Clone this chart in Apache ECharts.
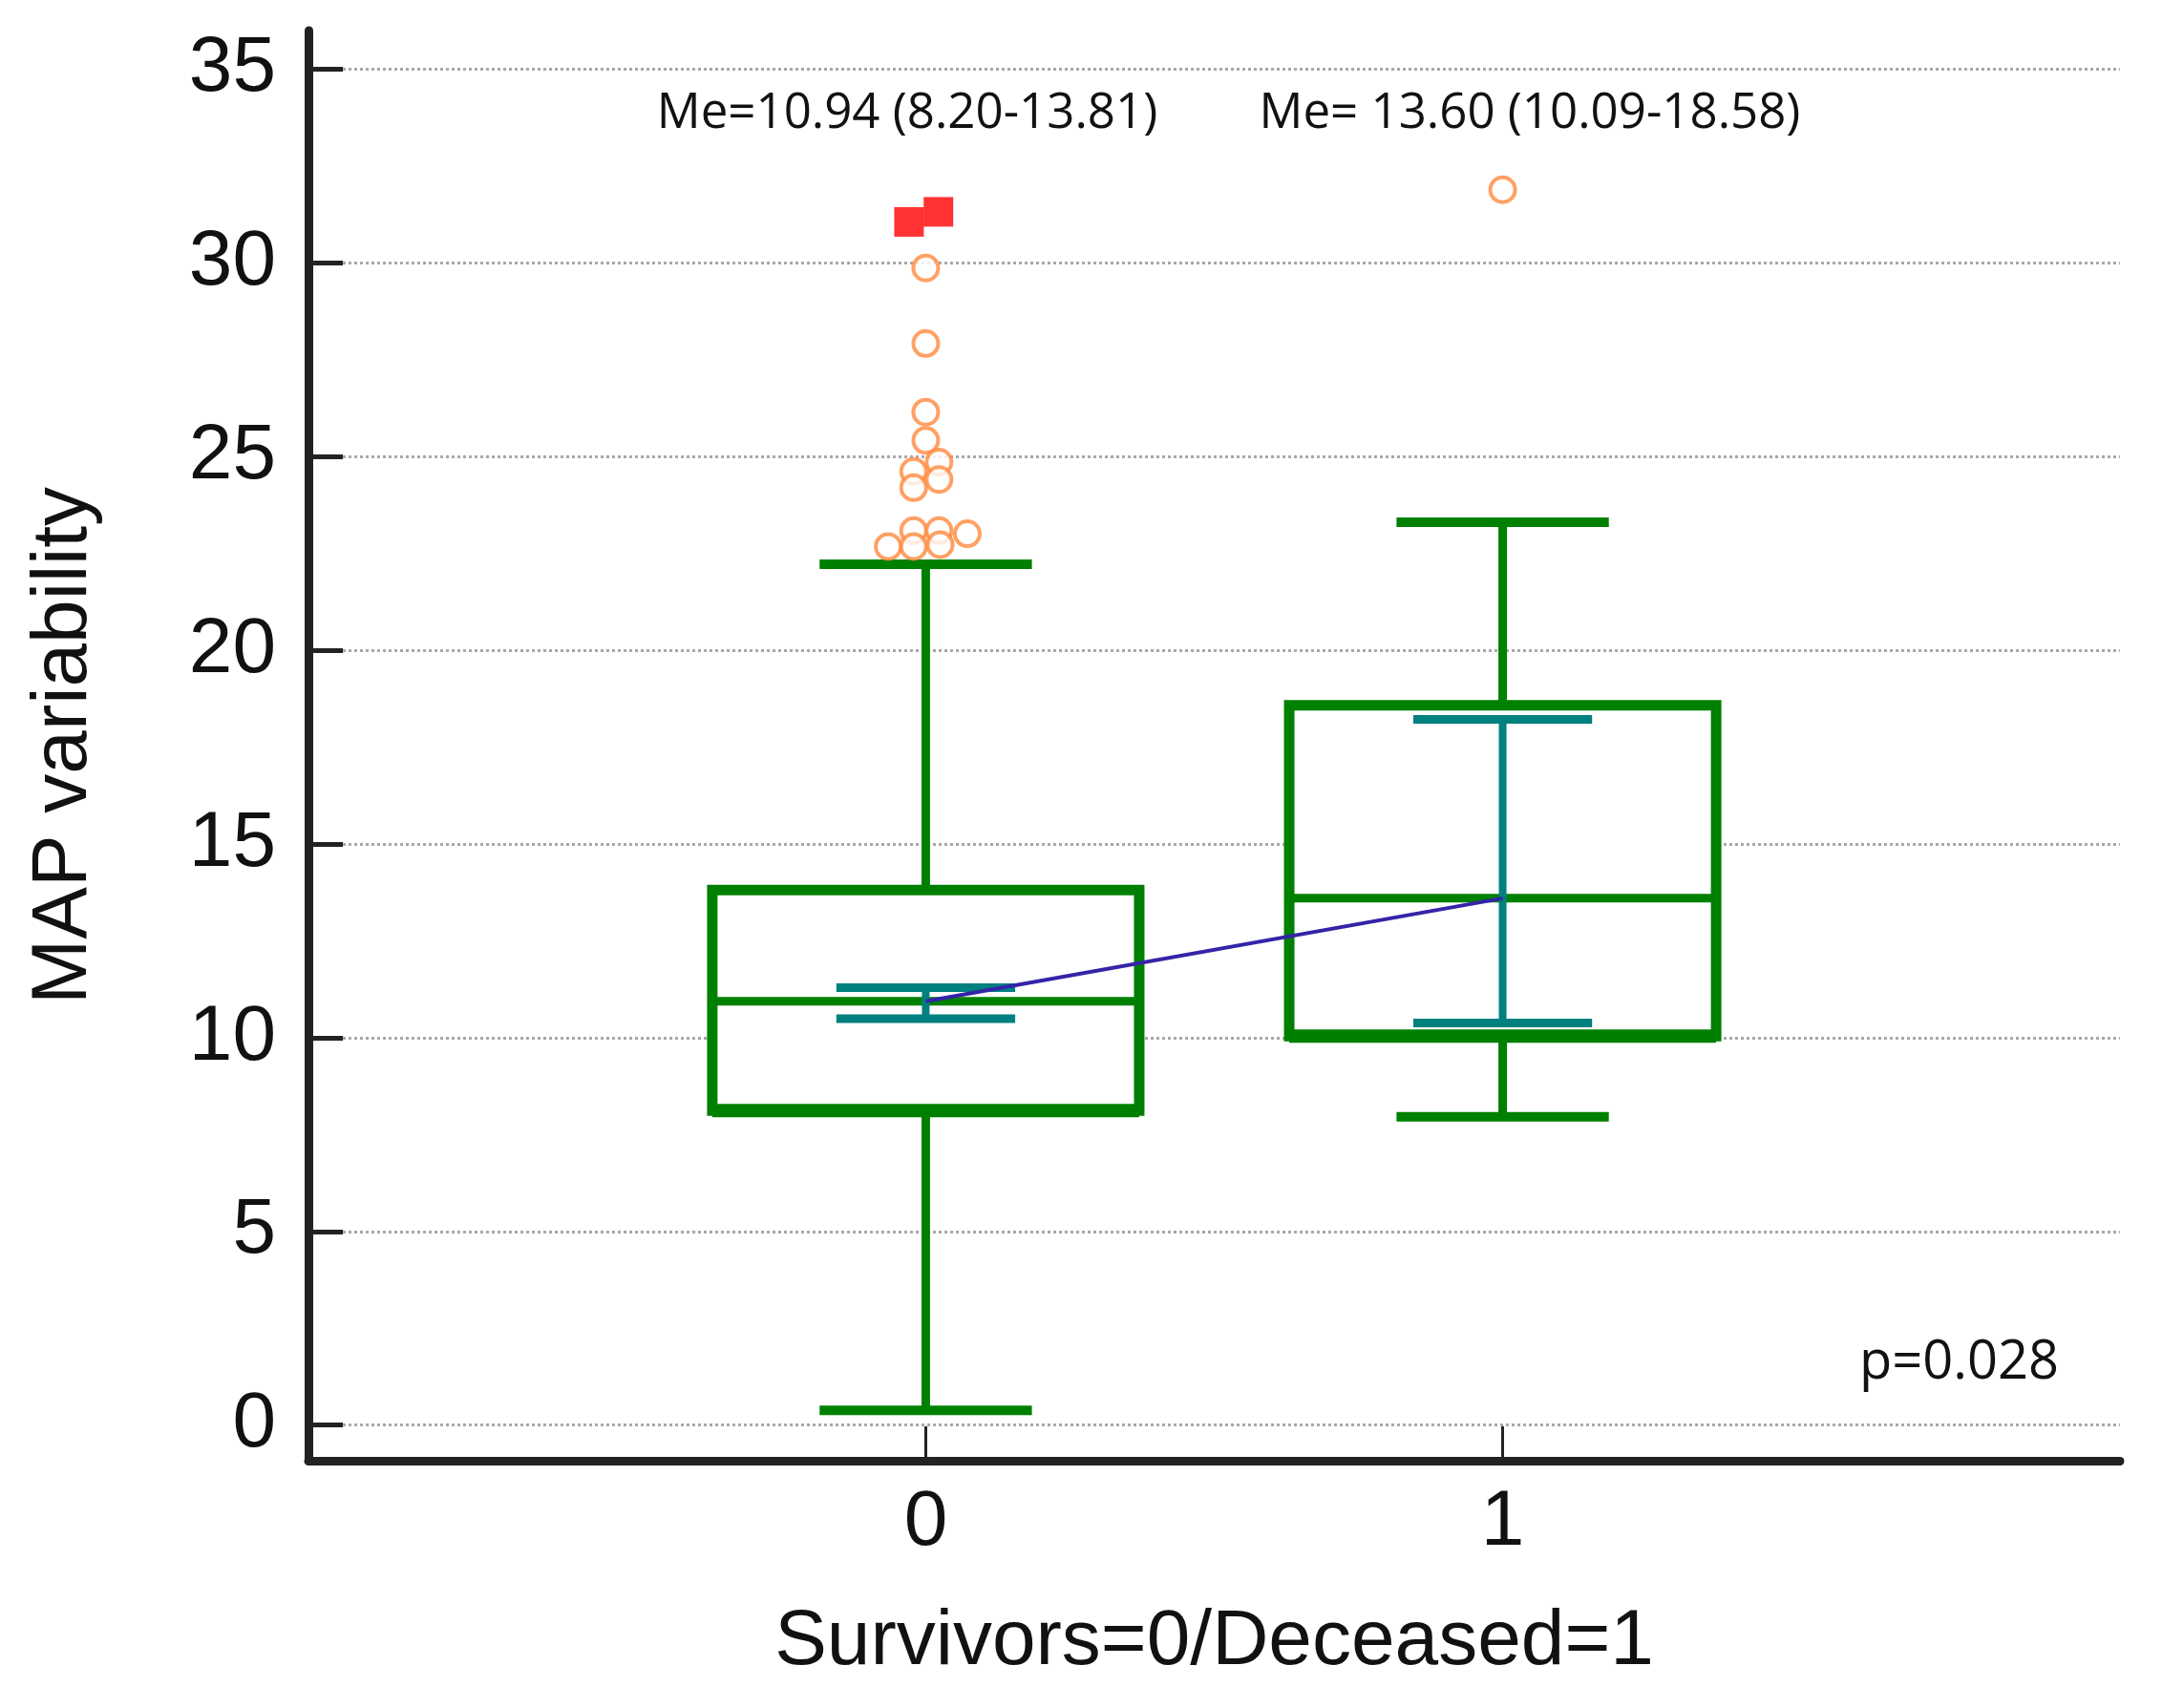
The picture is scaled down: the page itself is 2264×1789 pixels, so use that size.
<!DOCTYPE html>
<html>
<head>
<meta charset="utf-8">
<title>MAP variability</title>
<script src="https://cdn.jsdelivr.net/npm/echarts@6/dist/echarts.min.js"></script>
<style>
  html, body { margin: 0; padding: 0; background: #fff; }
  #chart { width: 2264px; height: 1789px; }
</style>
</head>
<body>
<div id="chart"></div>
<script>
// groups: survivors = 0, deceased = 1
var groups = [0, 1];
var whiskerLow = [0.38, 7.96];
var q1 = [8.12, 10.04];
var median = [10.94, 13.60];
var q3 = [13.81, 18.58];
var whiskerHigh = [22.22, 23.31];
var ciLow = [10.49, 10.38];
var ciHigh = [11.29, 18.22];

// outside values, [x jitter, value]
var outliers = [
  [0.000, 29.87], [0.000, 27.92], [0.000, 26.15], [0.000, 25.42],
  [0.023, 24.86], [-0.021, 24.62], [0.023, 24.41], [-0.021, 24.20],
  [-0.021, 23.09], [0.023, 23.09], [0.072, 23.01],
  [-0.065, 22.68], [-0.021, 22.68], [0.025, 22.73],
  [1.000, 31.89]
];
// far out values
var farOutliers = [[-0.029, 31.06], [0.022, 31.32]];

var medianLabels = ['Me=10.94 (8.20-13.81)', 'Me= 13.60 (10.09-18.58)'];
var pLabel = 'p=0.028';
var yTicks = [0, 5, 10, 15, 20, 25, 30, 35];
var xTicks = [0, 1];

var boxData = groups.map(function (g, i) {
  return [g, whiskerLow[i], q1[i], median[i], q3[i], whiskerHigh[i], ciLow[i], ciHigh[i]];
});

var green = '#008000';
var teal = '#00807f';

function renderBox(params, api) {
  var x = api.value(0);
  var lo = api.value(1), b1 = api.value(2), med = api.value(3), b3 = api.value(4);
  var hi = api.value(5), cl = api.value(6), ch = api.value(7);
  function seg(x1, y1, x2, y2, color, w) {
    var a = api.coord([x1, y1]);
    var b = api.coord([x2, y2]);
    return {
      type: 'line',
      shape: { x1: a[0], y1: a[1], x2: b[0], y2: b[1] },
      style: { stroke: color, lineWidth: w, lineCap: 'butt' }
    };
  }
  var tl = api.coord([x - 0.37, b3]);
  var br = api.coord([x + 0.37, b1]);
  return {
    type: 'group',
    children: [
      seg(x, lo, x, b1, green, 9),
      seg(x, b3, x, hi, green, 9),
      seg(x - 0.184, lo, x + 0.184, lo, green, 10),
      seg(x - 0.184, hi, x + 0.184, hi, green, 10),
      {
        type: 'rect',
        shape: { x: tl[0], y: tl[1], width: br[0] - tl[0], height: br[1] - tl[1] },
        style: { fill: '#fff', stroke: green, lineWidth: 11 }
      },
      seg(x - 0.37, b1, x + 0.37, b1, green, 14),
      seg(x - 0.37, med, x + 0.37, med, green, 9),
      seg(x, cl, x, ch, teal, 8),
      seg(x - 0.155, cl, x + 0.155, cl, teal, 9),
      seg(x - 0.155, ch, x + 0.155, ch, teal, 9)
    ]
  };
}

var chart = echarts.init(document.getElementById('chart'), null, { renderer: 'canvas' });

var option = {
  backgroundColor: '#ffffff',
  animation: false,
  grid: { left: 323, right: 44, top: 32, bottom: 259, containLabel: false },
  xAxis: {
    type: 'value',
    min: -1.07,
    max: 2.07,
    name: 'Survivors=0/Deceased=1',
    nameLocation: 'middle',
    nameGap: 149,
    nameTextStyle: { fontFamily: 'Liberation Sans', fontSize: 82, color: '#111' },
    axisLine: { onZero: false, lineStyle: { color: '#222', width: 9 } },
    axisTick: { inside: true, length: 36, customValues: xTicks, lineStyle: { color: '#222', width: 3 } },
    axisLabel: { customValues: xTicks, margin: 24, fontFamily: 'Liberation Sans', fontSize: 82, color: '#111' },
    splitLine: { show: false }
  },
  yAxis: {
    type: 'value',
    min: -0.92,
    max: 36,
    name: 'MAP variability',
    nameLocation: 'middle',
    nameGap: 215,
    nameTextStyle: { fontFamily: 'Liberation Sans', fontSize: 82, color: '#111' },
    axisLine: { onZero: false, lineStyle: { color: '#222', width: 9 } },
    axisTick: { inside: true, length: 36, customValues: yTicks, lineStyle: { color: '#222', width: 5 } },
    axisLabel: { customValues: yTicks, margin: 34, fontFamily: 'Liberation Sans', fontSize: 82, color: '#111' },
    splitLine: { show: true, lineStyle: { color: '#a8a8a8', width: 3, type: [3, 3] } }
  },
  series: [
    {
      type: 'custom',
      name: 'box',
      renderItem: renderBox,
      data: boxData,
      z: 2,
      silent: true
    },
    {
      type: 'line',
      name: 'medians',
      data: groups.map(function (g, i) { return [g, median[i]]; }),
      symbol: 'none',
      lineStyle: { color: '#3424a8', width: 4 },
      z: 3,
      silent: true
    },
    {
      type: 'scatter',
      name: 'outside',
      data: outliers,
      symbol: 'circle',
      symbolSize: 26,
      itemStyle: { color: '#ffffff', borderColor: '#ff8a3d', borderWidth: 4 },
      z: 4,
      silent: true
    },
    {
      type: 'scatter',
      name: 'far out',
      data: farOutliers,
      symbol: 'rect',
      symbolSize: 31,
      itemStyle: { color: '#ff0000' },
      z: 5,
      silent: true
    }
  ],
  graphic: [
    {
      type: 'text', x: 950, y: 119,
      style: { text: medianLabels[0], fontFamily: 'Open Sans', fontSize: 51, fill: '#111', align: 'center', verticalAlign: 'middle' }
    },
    {
      type: 'text', x: 1602, y: 119,
      style: { text: medianLabels[1], fontFamily: 'Open Sans', fontSize: 51, fill: '#111', align: 'center', verticalAlign: 'middle' }
    },
    {
      type: 'text', x: 1947, y: 1428,
      style: { text: pLabel, fontFamily: 'Open Sans', fontSize: 56, fill: '#111', align: 'left', verticalAlign: 'middle' }
    }
  ]
};

chart.setOption(option);
</script>
</body>
</html>
